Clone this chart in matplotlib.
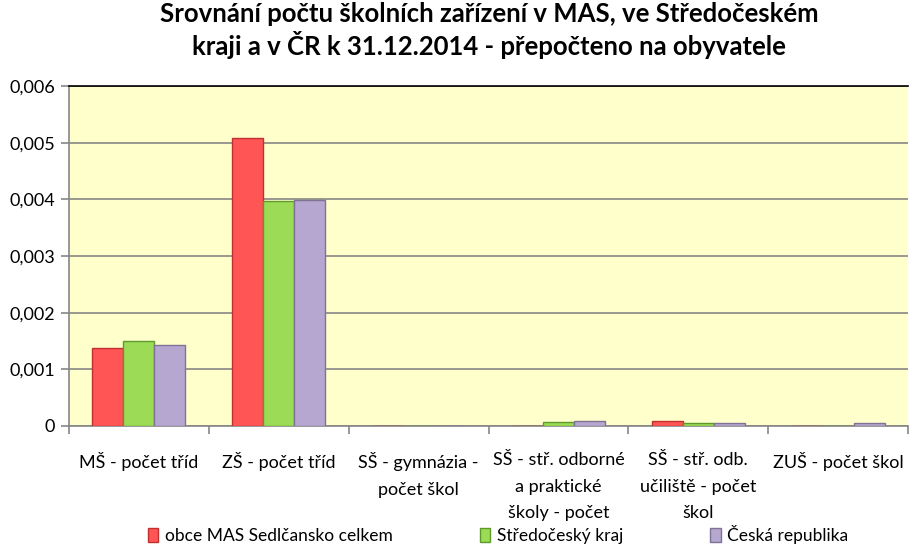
import matplotlib
matplotlib.use("Agg")
import matplotlib.pyplot as plt
import numpy as np
from matplotlib.ticker import FuncFormatter, FixedLocator

plt.rcParams['font.family'] = ['Lato', 'DejaVu Sans']

categories = ["MŠ - počet tříd", "ZŠ - počet tříd", "SŠ - gymnázia -\npočet škol",
              "SŠ - stř. odborné\na praktické\nškoly - počet",
              "SŠ - stř. odb.\nučiliště - počet\nškol", "ZUŠ - počet škol"]
series_names = ["obce MAS Sedlčansko celkem", "Středočeský kraj", "Česká republika"]
mas = [0.00138, 0.00508, 0.000003, 0.000003, 0.00009, 0.000003]
stc = [0.00150, 0.00397, 0.000005, 0.00007, 0.00005, 0.000003]
cr = [0.00143, 0.00399, 0.000004, 0.00009, 0.00005, 0.00005]
yticks = [0, 0.001, 0.002, 0.003, 0.004, 0.005, 0.006]

fill_colors = ["#FF5555", "#9BDB55", "#B5A7CF"]
edge_colors = ["#C03030", "#5E9A2A", "#7E7296"]

fig = plt.figure(figsize=(9.09, 5.46), dpi=100)
ax = fig.add_axes([69/909, 1-426/546, 1-69/909-0.001, (426-86)/546])
ax.set_facecolor("#FFFFCC")

x = np.arange(len(categories))
w = 0.222
for i, (vals, fc, ec, name) in enumerate(zip([mas, stc, cr], fill_colors, edge_colors, series_names)):
    ax.bar(x + (i - 1) * w, vals, width=w, color=fc, edgecolor=ec, linewidth=1.0,
           label=name, zorder=3)

ax.set_xlim(-0.5, len(categories) - 0.5)
ax.set_ylim(0, 0.006)
ax.yaxis.set_major_locator(FixedLocator(yticks))
ax.yaxis.set_major_formatter(FuncFormatter(lambda v, p: "0" if v == 0 else f"{v:.3f}".replace(".", ",")))
ax.grid(axis="y", color="#868686", linewidth=1.2, zorder=1)
ax.set_axisbelow(True)

ax.set_xticks(x)
ax.set_xticklabels(categories, fontsize=13, linespacing=1.8, va="top")
ax.tick_params(axis="x", which="major", length=0, pad=19)
ax.set_xticks(np.arange(-0.5, len(categories), 1), minor=True)
ax.tick_params(axis="x", which="minor", length=6, color="#868686", width=1.2)
ax.tick_params(axis="y", length=6, color="#868686", width=1.2, labelsize=13, pad=4)

ax.spines["right"].set_visible(False)
ax.spines["top"].set_color("black")
ax.spines["top"].set_linewidth(1.2)
ax.spines["left"].set_color("#868686")
ax.spines["bottom"].set_color("#868686")
ax.spines["left"].set_linewidth(1.2)
ax.spines["bottom"].set_linewidth(1.2)

fig.text(0.538, 1 - 2/546,
         "Srovnání počtu školních zařízení v MAS, ve Středočeském\nkraji a v ČR k 31.12.2014 - přepočteno na obyvatele",
         ha="center", va="top", fontsize=18.5, fontweight="bold", linespacing=1.2)

leg = fig.legend(loc="lower center", bbox_to_anchor=(0.548, -0.025), ncol=3, frameon=False,
                 fontsize=12.5, handlelength=0.6, handleheight=0.9, handletextpad=0.4,
                 columnspacing=5.0)

fig.savefig("out.png", dpi=100, facecolor="white")
